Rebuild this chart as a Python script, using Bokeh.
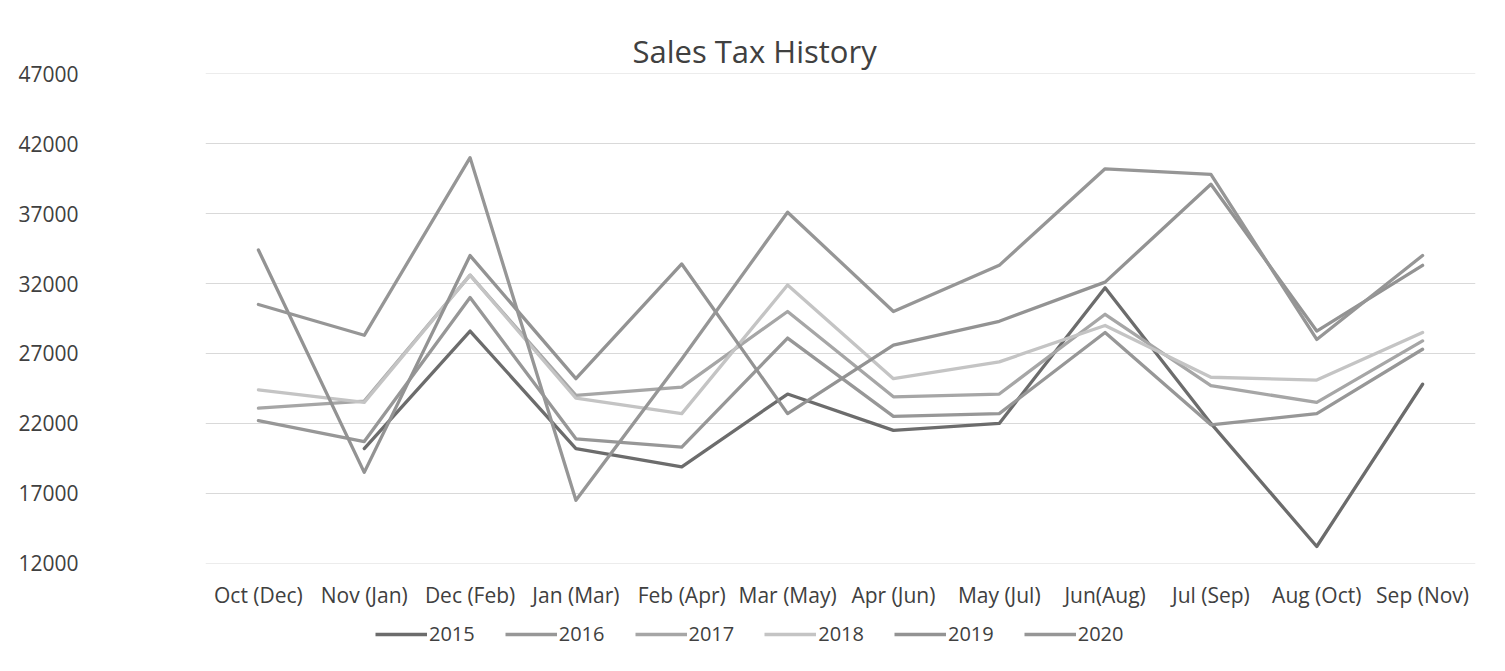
import math
from bokeh.plotting import figure
from bokeh.models import FactorRange, Range1d, FixedTicker, Legend, LegendItem
from bokeh.layouts import column
from bokeh.embed import file_html
from bokeh.resources import INLINE

categories = ["Oct (Dec)", "Nov (Jan)", "Dec (Feb)", "Jan (Mar)", "Feb (Apr)", "Mar (May)",
              "Apr (Jun)", "May (Jul)", "Jun(Aug)", "Jul (Sep)", "Aug (Oct)", "Sep (Nov)"]
nan = float("nan")
s2015 = [nan, 20200, 28600, 20200, 18900, 24100, 21500, 22000, 31700, 22000, 13200, 24800]
s2016 = [22200, 20700, 31000, 20900, 20300, 28100, 22500, 22700, 28500, 21900, 22700, 27300]
s2017 = [23100, 23600, 32600, 24000, 24600, 30000, 23900, 24100, 29800, 24700, 23500, 27900]
s2018 = [24400, 23500, 32600, 23800, 22700, 31900, 25200, 26400, 29000, 25300, 25100, 28500]
s2019 = [34400, 18500, 34000, 25200, 33400, 22700, 27600, 29300, 32100, 39100, 28600, 33300]
s2020 = [30500, 28300, 41000, 16500, 26600, 37100, 30000, 33300, 40200, 39800, 28000, 34000]
series_names = ["2015", "2016", "2017", "2018", "2019", "2020"]
series_values = [s2015, s2016, s2017, s2018, s2019, s2020]
series_colors = ["#6c6c6c", "#979797", "#a6a6a6", "#c4c4c4", "#939393", "#969696"]
y_ticks = [12000, 17000, 22000, 27000, 32000, 37000, 42000, 47000]

FONT = "Open Sans"
TXT = "#404040"
LW = 3.3

p = figure(width=1489, height=612,
           x_range=FactorRange(factors=categories, range_padding=0),
           y_range=Range1d(11985, 47015),
           output_backend="svg", toolbar_location=None,
           min_border_left=205, min_border_right=14,
           min_border_top=73, min_border_bottom=49)
p.outline_line_color = None
p.background_fill_color = "white"

p.title.text = "Sales Tax History"
p.title.text_font = FONT
p.title.text_font_size = "31px"
p.title.text_font_style = "normal"
p.title.text_color = TXT
p.title.align = "left"
p.title.offset = 427
p.title.standoff = 4

p.yaxis.ticker = FixedTicker(ticks=y_ticks)
p.yaxis.axis_line_color = None
p.yaxis.major_tick_line_color = None
p.yaxis.minor_tick_line_color = None
p.yaxis.major_tick_out = 0
p.yaxis.major_tick_in = 0
p.yaxis.major_label_standoff = 127
p.yaxis.major_label_text_font = FONT
p.yaxis.major_label_text_font_size = "21px"
p.yaxis.major_label_text_color = TXT

p.xaxis.axis_line_color = None
p.xaxis.major_tick_line_color = None
p.xaxis.minor_tick_line_color = None
p.xaxis.major_tick_out = 0
p.xaxis.major_tick_in = 0
p.xaxis.major_label_standoff = 17
p.xaxis.major_label_text_font = FONT
p.xaxis.major_label_text_font_size = "21px"
p.xaxis.major_label_text_color = TXT

p.xgrid.grid_line_color = None
p.ygrid.grid_line_color = "#d9d9d9"
p.ygrid.grid_line_width = 1

for name, vals, col in zip(series_names, series_values, series_colors):
    p.line(x=categories, y=vals, line_color=col, line_width=LW, line_join="round", line_cap="round")

# legend strip below the chart (its sample lines lie outside the strip's visible range)
q = figure(width=1489, height=43, x_range=Range1d(0, 1), y_range=Range1d(0, 1),
           output_backend="svg", toolbar_location=None,
           x_axis_location=None, y_axis_location=None,
           min_border_left=0, min_border_right=0, min_border_top=0, min_border_bottom=0)
q.outline_line_color = None
q.xgrid.grid_line_color = None
q.ygrid.grid_line_color = None
items = []
for name, col in zip(series_names, series_colors):
    r = q.line(x=[5, 6], y=[5, 6], line_color=col, line_width=LW)
    items.append(LegendItem(label=name, renderers=[r]))
legend = Legend(items=items, orientation="horizontal", location=(170, 8),
                glyph_width=52, glyph_height=20, label_standoff=2, spacing=30,
                padding=0, margin=0, border_line_color=None, background_fill_alpha=0,
                label_text_font=FONT, label_text_font_size="20px", label_text_color=TXT)
q.add_layout(legend, "center")

open("out.html", "w").write(file_html(column(p, q), INLINE))
